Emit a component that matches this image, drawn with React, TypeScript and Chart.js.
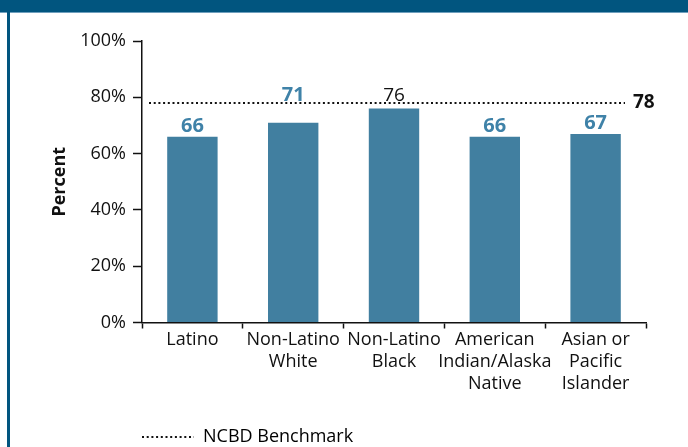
import React, { useEffect, useRef } from "react";
import { Chart, registerables } from "chart.js";

Chart.register(...registerables);

const CATEGORIES: string[][] = [
  ["Latino"],
  ["Non-Latino", "White"],
  ["Non-Latino", "Black"],
  ["American", "Indian/Alaska", "Native"],
  ["Asian or", "Pacific", "Islander"],
];
const VALUES: number[] = [66, 71, 76, 66, 67];
const BENCHMARK = 78;
const BENCHMARK_LABEL = "NCBD Benchmark";
const Y_TICKS: number[] = [0, 20, 40, 60, 80, 100];
const Y_TITLE = "Percent";

// style: which value labels are bold blue (others plain black)
const LABEL_EMPHASIS: boolean[] = [true, true, false, true, true];

const FONT = '"Open Sans", "Noto Sans", sans-serif';
const BAR_COLOR = "#417fa0";
const LABEL_BLUE = "#3f82a8";
const FRAME_BLUE = "#01557f";
const INK = "#111111";

const benchmarkPlugin = {
  id: "benchmarkLine",
  afterDatasetsDraw(chart: any) {
    const { ctx, chartArea, scales } = chart;
    const y = scales.y.getPixelForValue(BENCHMARK);
    ctx.save();
    ctx.strokeStyle = INK;
    ctx.lineWidth = 2;
    ctx.setLineDash([2, 2.7]);
    ctx.beginPath();
    ctx.moveTo(chartArea.left + 7, y);
    ctx.lineTo(chartArea.right - 21, y);
    ctx.stroke();
    ctx.setLineDash([]);
    ctx.fillStyle = INK;
    ctx.font = `bold 19px ${FONT}`;
    ctx.textAlign = "left";
    ctx.textBaseline = "middle";
    ctx.fillText(String(BENCHMARK), chartArea.right - 13, y);

    // value labels
    const meta = chart.getDatasetMeta(0);
    meta.data.forEach((bar: any, i: number) => {
      const v = VALUES[i];
      const emph = LABEL_EMPHASIS[i];
      ctx.font = emph ? `bold 20px ${FONT}` : `19px ${FONT}`;
      ctx.fillStyle = emph ? LABEL_BLUE : INK;
      ctx.textAlign = "center";
      ctx.textBaseline = "alphabetic";
      const yy = v >= BENCHMARK - 8 ? y - 1.5 : bar.y - 5;
      ctx.fillText(String(v), bar.x, yy);
    });
    ctx.restore();
  },
};

export default function App() {
  const ref = useRef<HTMLCanvasElement | null>(null);

  useEffect(() => {
    if (!ref.current) return;
    const chart = new Chart(ref.current, {
      type: "bar",
      data: {
        labels: CATEGORIES,
        datasets: [
          {
            label: "Percent",
            data: VALUES,
            backgroundColor: BAR_COLOR,
            borderWidth: 0,
            barPercentage: 0.5,
            categoryPercentage: 1,
          },
        ],
      },
      options: {
        responsive: false,
        animation: false,
        devicePixelRatio: 1,
        layout: { padding: { left: 45, top: 41, right: 42, bottom: 0 } },
        plugins: {
          tooltip: { enabled: false },
          legend: {
            position: "bottom",
            align: "start",
            fullSize: false,
            onClick: () => {},
            labels: {
              usePointStyle: true,
              pointStyleWidth: 52,
              padding: 0,
              color: INK,
              font: { family: FONT, size: 18 },
              generateLabels: () => [
                {
                  text: BENCHMARK_LABEL,
                  pointStyle: "line",
                  lineWidth: 2,
                  strokeStyle: INK,
                  fillStyle: INK,
                  lineDash: [2, 2.7],
                  hidden: false,
                  datasetIndex: 0,
                } as any,
              ],
            },
          },
        },
        scales: {
          x: {
            afterFit: (s: any) => {
              s.height = 105.5;
            },
            grid: {
              display: true,
              offset: true,
              drawOnChartArea: false,
              drawTicks: true,
              tickLength: 6,
              color: INK,
              tickWidth: 1.5,
            },
            border: { display: true, color: INK, width: 1.5 },
            ticks: {
              autoSkip: false,
              maxRotation: 0,
              minRotation: 0,
              padding: 0,
              color: INK,
              font: { family: FONT, size: 18, lineHeight: 1.222 },
            },
          },
          y: {
            min: 0,
            max: 100,
            afterFit: (s: any) => {
              s.width = 97;
            },
            afterBuildTicks: (s: any) => {
              s.ticks = Y_TICKS.map((v) => ({ value: v }));
            },
            grid: {
              display: true,
              drawOnChartArea: false,
              drawTicks: true,
              tickLength: 9,
              color: INK,
              tickWidth: 1.5,
            },
            border: { display: true, color: INK, width: 1.5 },
            ticks: {
              padding: 7,
              color: INK,
              font: { family: FONT, size: 18 },
              callback: (v: any) => `${v}%`,
            },
            title: {
              display: true,
              text: Y_TITLE,
              color: INK,
              font: { family: FONT, size: 18, weight: "bold" },
              padding: { top: 4, bottom: 4 },
            },
          },
        },
      },
      plugins: [benchmarkPlugin],
    });
    return () => chart.destroy();
  }, []);

  return (
    <div
      style={{
        position: "fixed",
        left: 0,
        top: 0,
        width: 688,
        height: 447,
        overflow: "hidden",
        background: "#fff",
      }}
    >
      <canvas
        ref={ref}
        width={688}
        height={456}
        style={{ position: "absolute", left: 0, top: 0, width: 688, height: 456 }}
      />
      <div
        style={{
          position: "absolute",
          left: 0,
          top: 0,
          width: 688,
          height: 12,
          background: FRAME_BLUE,
          borderBottom: "1.5px solid #6f9fbd",
        }}
      />
      <div
        style={{
          position: "absolute",
          left: 7,
          top: 12,
          width: 2.5,
          height: 435,
          background: FRAME_BLUE,
        }}
      />
    </div>
  );
}
